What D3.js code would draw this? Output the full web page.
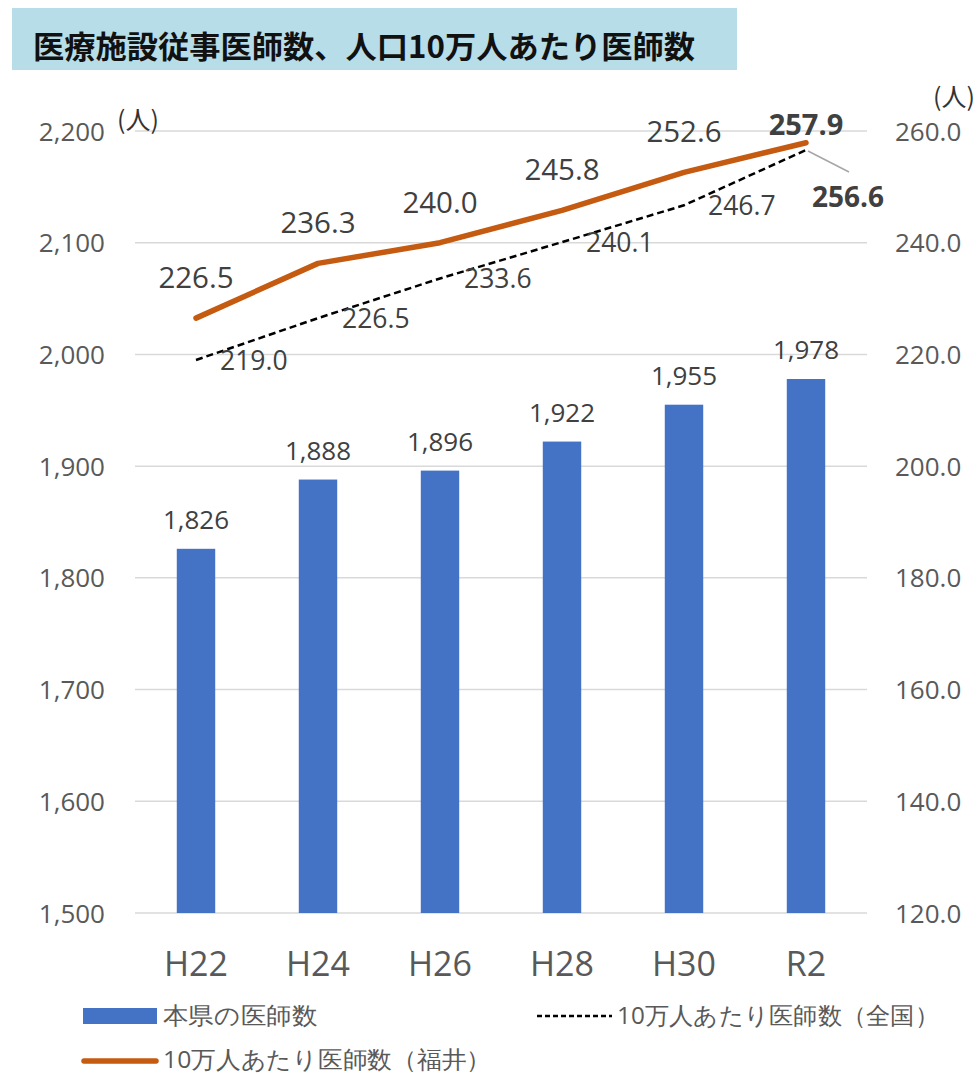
<html lang="ja">
<head>
  <meta charset="UTF-8">
  <title>医療施設従事医師数</title>
  <style>
    body { margin: 0; background: #fff; }
    text { font-family: "Open Sans", "Noto Sans", sans-serif; }
    .jp { font-family: "Noto Sans CJK JP", sans-serif; }
  </style>
</head>
<body>
  <script src="https://d3js.org/d3.v7.min.js"></script>
  <div id="chart"></div>
  <script>
    // data
    const years = ["H22", "H24", "H26", "H28", "H30", "R2"];
    const doctors = [1826, 1888, 1896, 1922, 1955, 1978];          // 本県の医師数
    const fukuiPer100k = [226.5, 236.3, 240.0, 245.8, 252.6, 257.9]; // 福井
    const nationalPer100k = [219.0, 226.5, 233.6, 240.1, 246.7, 256.6]; // 全国
    const leftTicks = [1500, 1600, 1700, 1800, 1900, 2000, 2100, 2200];
    const rightTicks = [120, 140, 160, 180, 200, 220, 240, 260];

    const W = 978, H = 1074;
    const plot = { left: 135, right: 867, top: 131, bottom: 913 };

    const svg = d3.select("#chart").append("svg")
      .attr("width", W).attr("height", H);

    // title box
    svg.append("rect")
      .attr("x", 12).attr("y", 8).attr("width", 725).attr("height", 62)
      .attr("fill", "#b7dde8");
    svg.append("text").attr("class", "jp")
      .attr("x", 33).attr("y", 58)
      .attr("font-size", 31).attr("font-weight", "bold").attr("fill", "#111")
      .attr("textLength", 662).attr("lengthAdjust", "spacingAndGlyphs")
      .text("医療施設従事医師数、人口10万人あたり医師数");

    const x = d3.scaleBand().domain(years)
      .range([plot.left, plot.right])
      .paddingInner(0.685).paddingOuter(0.3425);
    const yL = d3.scaleLinear().domain([1500, 2200]).range([plot.bottom, plot.top]);
    const yR = d3.scaleLinear().domain([120, 260]).range([plot.bottom, plot.top]);
    const cx = d => x(d) + x.bandwidth() / 2;

    // gridlines
    svg.append("g").selectAll("line").data(leftTicks).join("line")
      .attr("x1", plot.left).attr("x2", plot.right)
      .attr("y1", d => yL(d)).attr("y2", d => yL(d))
      .attr("stroke", "#d9d9d9").attr("stroke-width", 1.5);

    // left axis
    const axL = svg.append("g")
      .attr("transform", `translate(${plot.left - 27},0)`)
      .call(d3.axisLeft(yL).tickValues(leftTicks).tickFormat(d3.format(",")).tickSize(0));
    axL.select(".domain").remove();
    axL.selectAll("text").attr("font-size", 26).attr("fill", "#595959")
      .attr("font-family", "Open Sans").attr("dy", "0.35em");

    // right axis
    const axR = svg.append("g")
      .attr("transform", `translate(${plot.right + 25},0)`)
      .call(d3.axisRight(yR).tickValues(rightTicks).tickFormat(d3.format(".1f")).tickSize(0));
    axR.select(".domain").remove();
    axR.selectAll("text").attr("font-size", 26).attr("fill", "#595959")
      .attr("font-family", "Open Sans").attr("dy", "0.35em");

    // x axis
    const axX = svg.append("g")
      .attr("transform", `translate(0,${plot.bottom + 36})`)
      .call(d3.axisBottom(x).tickSize(0));
    axX.select(".domain").remove();
    axX.selectAll("text").attr("font-size", 34).attr("fill", "#595959")
      .attr("font-family", "Open Sans").attr("dy", "0.71em");

    // units
    svg.append("text").attr("class", "jp").attr("x", 117).attr("y", 129)
      .attr("font-size", 25).attr("fill", "#333").text("(人)");
    svg.append("text").attr("class", "jp").attr("x", 933).attr("y", 106)
      .attr("font-size", 25).attr("fill", "#333").text("(人)");

    // bars
    svg.append("g").selectAll("rect").data(doctors).join("rect")
      .attr("x", (d, i) => x(years[i]))
      .attr("y", d => yL(d))
      .attr("width", x.bandwidth())
      .attr("height", d => plot.bottom - yL(d))
      .attr("fill", "#4472c4");

    svg.append("g").selectAll("text").data(doctors).join("text")
      .attr("x", (d, i) => cx(years[i]))
      .attr("y", d => yL(d) - 20)
      .attr("text-anchor", "middle")
      .attr("font-size", 26).attr("fill", "#404040")
      .text(d => d3.format(",")(d));

    // national dashed line
    const line = d3.line().x((d, i) => cx(years[i]));
    svg.append("path").datum(nationalPer100k)
      .attr("d", line.y(d => yR(d)))
      .attr("fill", "none").attr("stroke", "#000")
      .attr("stroke-width", 2.5).attr("stroke-dasharray", "7,4");

    // fukui line
    svg.append("path").datum(fukuiPer100k)
      .attr("d", line.y(d => yR(d)))
      .attr("fill", "none").attr("stroke", "#c55a11")
      .attr("stroke-width", 5.5).attr("stroke-linecap", "round").attr("stroke-linejoin", "round");

    // national labels (last one is pulled out with a leader line)
    const last = years.length - 1;
    svg.append("line")
      .attr("x1", cx(years[last]) + 2).attr("y1", yR(nationalPer100k[last]) + 1)
      .attr("x2", cx(years[last]) + 43).attr("y2", yR(nationalPer100k[last]) + 22)
      .attr("stroke", "#a6a6a6").attr("stroke-width", 1.5);
    svg.append("g").selectAll("text").data(nationalPer100k).join("text")
      .attr("x", (d, i) => i === last ? cx(years[i]) + 42 : cx(years[i]) + 24)
      .attr("y", (d, i) => i === last ? yR(d) + 57 : yR(d) + 10)
      .attr("text-anchor", (d, i) => i === last ? "middle" : "start")
      .attr("font-size", (d, i) => i === last ? 28 : 26.5)
      .attr("font-weight", (d, i) => i === last ? "bold" : "normal")
      .attr("fill", "#404040")
      .text(d => d.toFixed(1));

    // fukui labels
    svg.append("g").selectAll("text").data(fukuiPer100k).join("text")
      .attr("x", (d, i) => cx(years[i]))
      .attr("y", (d, i) => i === last ? yR(d) - 8 : yR(d) - 30)
      .attr("text-anchor", "middle")
      .attr("font-size", (d, i) => i === last ? 29 : 29.5)
      .attr("font-weight", (d, i) => i === last ? "bold" : "normal")
      .attr("fill", "#404040")
      .text(d => d.toFixed(1));

    // legend
    const lg = svg.append("g").attr("class", "jp");
    lg.append("rect").attr("x", 83).attr("y", 1008).attr("width", 74).attr("height", 16)
      .attr("fill", "#4472c4");
    lg.append("text").attr("x", 163).attr("y", 1024).attr("font-size", 24).attr("fill", "#595959")
      .attr("textLength", 154).attr("lengthAdjust", "spacingAndGlyphs")
      .text("本県の医師数");
    lg.append("line").attr("x1", 537).attr("x2", 612).attr("y1", 1016).attr("y2", 1016)
      .attr("stroke", "#000").attr("stroke-width", 2.5).attr("stroke-dasharray", "5,3");
    lg.append("text").attr("x", 617).attr("y", 1024).attr("font-size", 24).attr("fill", "#595959")
      .attr("textLength", 322).attr("lengthAdjust", "spacingAndGlyphs")
      .text("10万人あたり医師数（全国）");
    lg.append("line").attr("x1", 84).attr("x2", 156).attr("y1", 1061).attr("y2", 1061)
      .attr("stroke", "#c55a11").attr("stroke-width", 5.5).attr("stroke-linecap", "round");
    lg.append("text").attr("x", 163).attr("y", 1068).attr("font-size", 24).attr("fill", "#595959")
      .attr("textLength", 328).attr("lengthAdjust", "spacingAndGlyphs")
      .text("10万人あたり医師数（福井）");
  </script>
</body>
</html>
